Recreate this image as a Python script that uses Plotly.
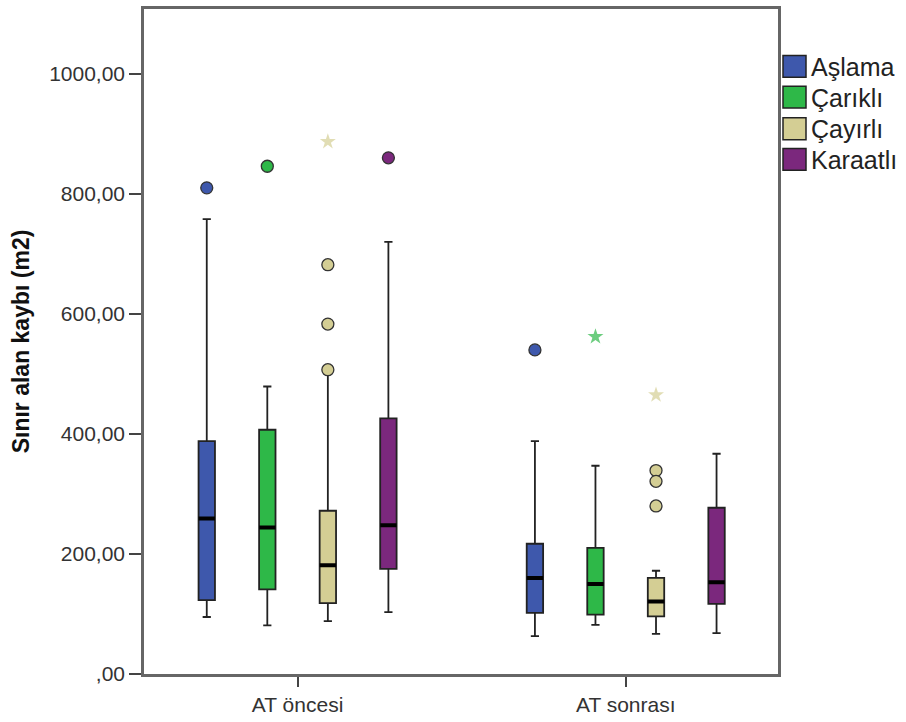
import plotly.graph_objects as go

# ---------------- data ----------------
groups = ["AT öncesi", "AT sonrası"]
series = ["Aşlama", "Çarıklı", "Çayırlı", "Karaatlı"]
colors = ["#3E58AC", "#2EB848", "#D4CE94", "#7B287D"]

# per series: values for [AT öncesi, AT sonrası]
q1 = {"Aşlama": [123, 102], "Çarıklı": [141, 99], "Çayırlı": [118, 96], "Karaatlı": [175, 117]}
median = {"Aşlama": [259, 160], "Çarıklı": [244, 150], "Çayırlı": [181, 121], "Karaatlı": [248, 153]}
q3 = {"Aşlama": [388, 217], "Çarıklı": [407, 210], "Çayırlı": [272, 160], "Karaatlı": [426, 277]}
lower = {"Aşlama": [95, 63], "Çarıklı": [81, 82], "Çayırlı": [88, 67], "Karaatlı": [103, 68]}
upper = {"Aşlama": [758, 388], "Çarıklı": [479, 347], "Çayırlı": [500, 172], "Karaatlı": [720, 367]}
outliers = {"Aşlama": [[810], [540]], "Çarıklı": [[846], []],
            "Çayırlı": [[682, 583, 507], [339, 321, 280]], "Karaatlı": [[860], []]}
extremes = {"Aşlama": [[], []], "Çarıklı": [[], [562]],
            "Çayırlı": [[887], [465]], "Karaatlı": [[], []]}

ytick_values = [0, 200, 400, 600, 800, 1000]
y_title = "Sınır alan kaybı (m2)"


def fmt(v):
    s = f"{v:.2f}".replace(".", ",")
    return s[1:] if s.startswith("0,") else s


ytick_text = [fmt(v) for v in ytick_values]

# ---------------- layout constants ----------------
W, H = 906, 722
L, R, T, B = 144, 778, 6, 678
spacing = 0.1845
box_w = 0.05

fig = go.Figure()
for si, name in enumerate(series):
    col = colors[si]
    for gi, g in enumerate(groups):
        xpos = gi + (si - 1.5) * spacing
        fig.add_trace(go.Box(
            x=[xpos], q1=[q1[name][gi]], median=[median[name][gi]], q3=[q3[name][gi]],
            lowerfence=[lower[name][gi]], upperfence=[upper[name][gi]],
            width=box_w, whiskerwidth=0.5, fillcolor=col,
            line=dict(color="#222222", width=1.8), boxpoints=False,
            showlegend=False, name=name, hoverinfo="skip"))
        # thick median line
        m = median[name][gi]
        fig.add_trace(go.Box(
            x=[xpos], q1=[m], median=[m], q3=[m], lowerfence=[m], upperfence=[m],
            width=box_w, whiskerwidth=0, fillcolor="rgba(0,0,0,0)",
            line=dict(color="#000000", width=4), boxpoints=False,
            showlegend=False, hoverinfo="skip"))
        if outliers[name][gi]:
            fig.add_trace(go.Scatter(
                x=[xpos] * len(outliers[name][gi]), y=outliers[name][gi], mode="markers",
                marker=dict(symbol="circle", size=12, color=col,
                            line=dict(color="#333333", width=1.3)),
                showlegend=False, hoverinfo="skip"))
        if extremes[name][gi]:
            fig.add_trace(go.Scatter(
                x=[xpos] * len(extremes[name][gi]), y=extremes[name][gi], mode="markers",
                marker=dict(symbol="star", size=12, color=col, opacity=0.7,
                            line=dict(width=0)),
                showlegend=False, hoverinfo="skip"))

# manual legend (swatches + labels)
pw, ph = R - L, B - T


def px_x(p):
    return (p - L) / pw


def px_y(p):
    return (B - p) / ph


shapes = []
annotations = []
sw_top = [53, 84, 116, 147]
for si, name in enumerate(series):
    top = sw_top[si]
    shapes.append(dict(type="rect", xref="paper", yref="paper",
                       x0=px_x(783), x1=px_x(806), y0=px_y(top + 22), y1=px_y(top),
                       fillcolor=colors[si], line=dict(color="#222222", width=1.5)))
    annotations.append(dict(xref="paper", yref="paper", x=px_x(809), y=px_y(top + 11.5),
                            text=name, showarrow=False, xanchor="left", yanchor="middle",
                            font=dict(family="Liberation Sans, Arial, sans-serif", size=25,
                                      color="#222222")))

fig.update_layout(
    width=W, height=H,
    margin=dict(l=L, r=W - R, t=T, b=H - B),
    paper_bgcolor="white", plot_bgcolor="white",
    showlegend=False,
    shapes=shapes, annotations=annotations,
    font=dict(family="Liberation Sans, Arial, sans-serif", color="#333333"),
    xaxis=dict(range=[-0.468, 1.464], tickmode="array", tickvals=list(range(len(groups))),
               ticktext=groups, ticks="outside", ticklen=10, tickwidth=2, tickcolor="#444444",
               showline=True, mirror=True, linecolor="#666666", linewidth=2.5,
               showgrid=False, zeroline=False, tickfont=dict(size=21, color="#333333")),
    yaxis=dict(range=[0, 1108], tickmode="array", tickvals=ytick_values, ticktext=ytick_text,
               ticks="outside", ticklen=12, tickwidth=2, tickcolor="#444444",
               showline=True, mirror=True, linecolor="#666666", linewidth=2.5,
               showgrid=False, zeroline=False, tickfont=dict(size=21, color="#333333"),
               title=dict(text=y_title, standoff=14,
                          font=dict(family="Liberation Sans, Arial, sans-serif", size=23,
                                    color="#111111", weight="bold"))),
)

fig.write_html("out.html")
